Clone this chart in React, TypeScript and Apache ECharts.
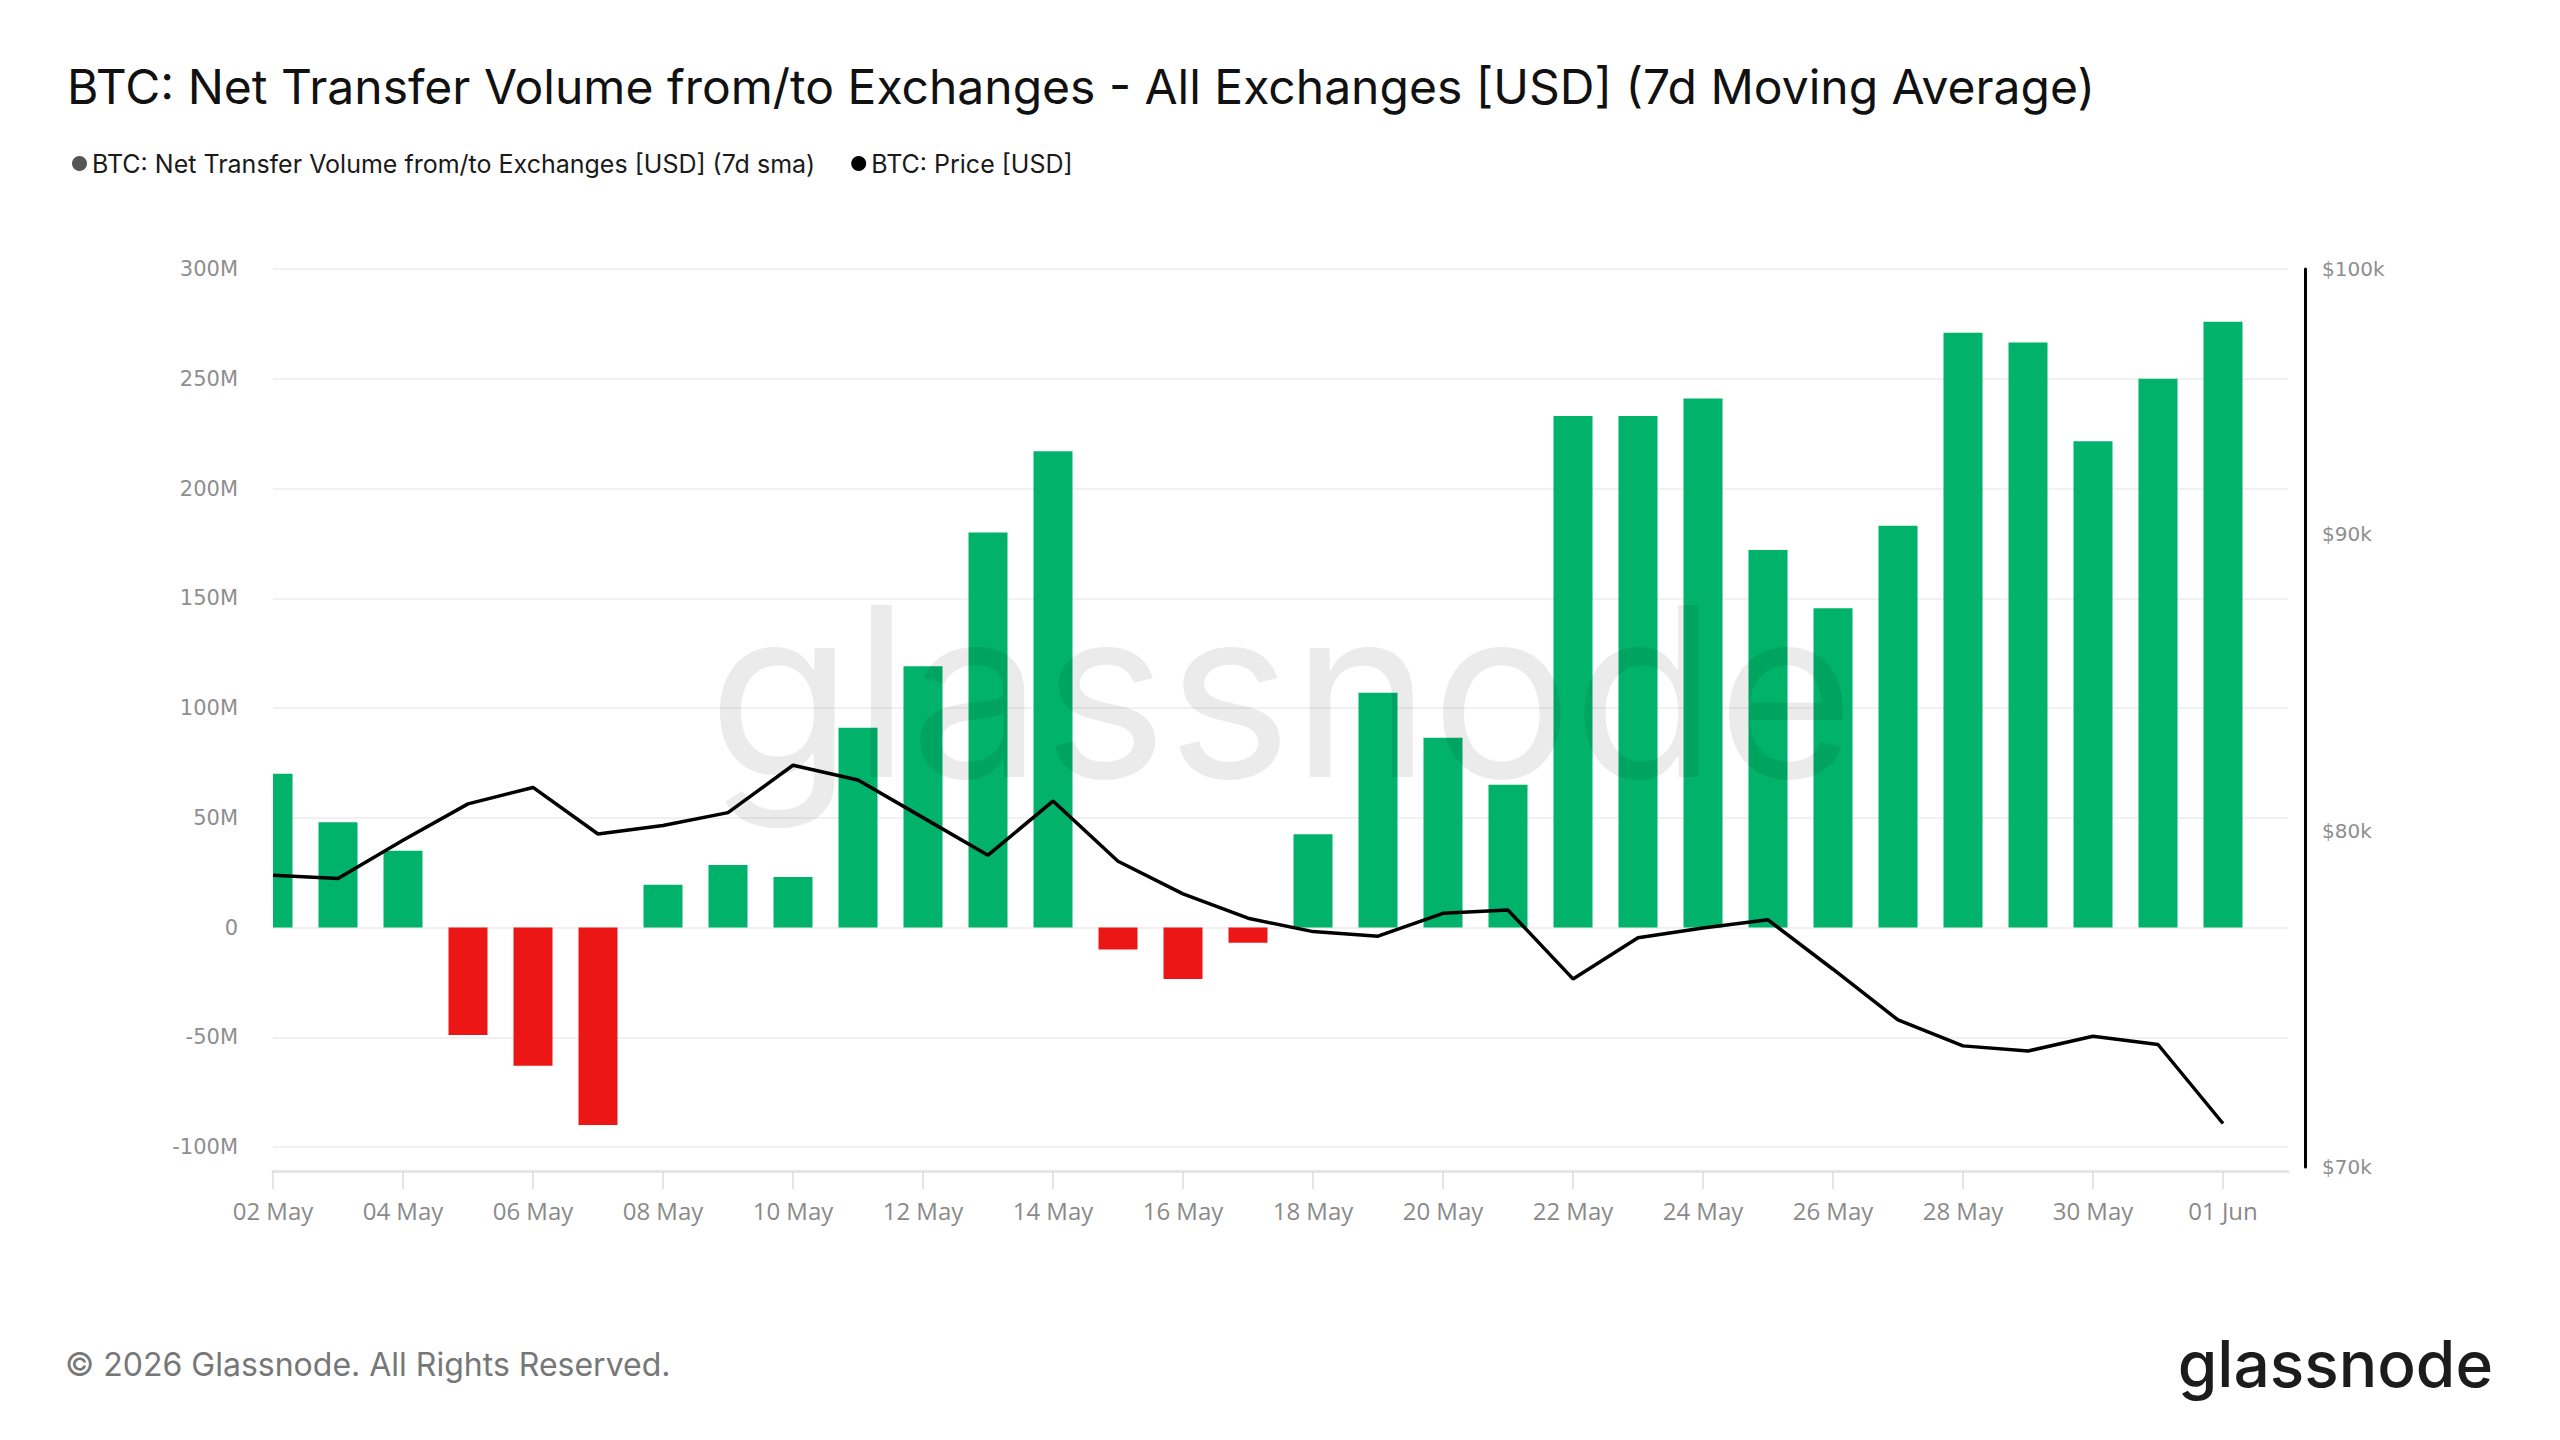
import React, { useEffect, useRef } from "react";
import * as echarts from "echarts";

const TITLE = "BTC: Net Transfer Volume from/to Exchanges - All Exchanges [USD] (7d Moving Average)";
const SERIES_FLOW = "BTC: Net Transfer Volume from/to Exchanges [USD] (7d sma)";
const SERIES_PRICE = "BTC: Price [USD]";

const dates: string[] = [
  "2026-05-02", "2026-05-03", "2026-05-04", "2026-05-05", "2026-05-06", "2026-05-07",
  "2026-05-08", "2026-05-09", "2026-05-10", "2026-05-11", "2026-05-12", "2026-05-13",
  "2026-05-14", "2026-05-15", "2026-05-16", "2026-05-17", "2026-05-18", "2026-05-19",
  "2026-05-20", "2026-05-21", "2026-05-22", "2026-05-23", "2026-05-24", "2026-05-25",
  "2026-05-26", "2026-05-27", "2026-05-28", "2026-05-29", "2026-05-30", "2026-05-31",
  "2026-06-01",
];

// Net transfer volume, millions of USD
const netFlowM: number[] = [
  70, 48, 35, -49, -63, -90, 19.5, 28.5, 23, 91, 119, 180, 217, -10, -23.5, -7,
  42.5, 107, 86.5, 65, 233, 233, 241, 172, 145.5, 183, 271, 266.5, 221.5, 250, 276,
];

// BTC price, USD
const priceUsd: number[] = [
  78600, 78500, 79700, 80860, 81390, 79900, 80170, 80580, 82110, 81630, 80420,
  79230, 80950, 79040, 78020, 77270, 76860, 76720, 77420, 77520, 75430, 76670,
  76970, 77220, 75720, 74210, 73450, 73300, 73730, 73490, 71220,
];

const xTickDates: string[] = [
  "2026-05-02", "2026-05-04", "2026-05-06", "2026-05-08", "2026-05-10", "2026-05-12",
  "2026-05-14", "2026-05-16", "2026-05-18", "2026-05-20", "2026-05-22", "2026-05-24",
  "2026-05-26", "2026-05-28", "2026-05-30", "2026-06-01",
];
const xMinDate = "2026-05-02";
const xMaxDate = "2026-06-02";

const rightTicks: number[] = [70000, 80000, 90000, 100000];

const GREEN = "#00b26a";
const RED = "#ec1616";
const ONE_DAY = 24 * 3600 * 1000;
const BAR_FRACTION = 0.6;

function toTs(s: string): number {
  const [y, m, d] = s.split("-").map(Number);
  return new Date(y, m - 1, d).getTime();
}

function fmtM(v: number): string {
  if (v === 0) return "0";
  return `${Math.round(v / 1e6)}M`;
}

export default function App() {
  const ref = useRef<HTMLDivElement>(null);

  useEffect(() => {
    if (!ref.current) return;
    const chart = echarts.init(ref.current, undefined, { renderer: "svg" });

    const flowData = dates.map((d, i) => [toTs(d), netFlowM[i] * 1e6]);
    const priceData = dates.map((d, i) => [toTs(d), priceUsd[i]]);

    const renderBar = (params: any, api: any) => {
      const x = api.value(0);
      const v = api.value(1);
      const p0 = api.coord([x, 0]);
      const p1 = api.coord([x, v]);
      const w = api.size([ONE_DAY, 0])[0] * BAR_FRACTION;
      const cs = params.coordSys;
      const shape = echarts.graphic.clipRectByRect(
        {
          x: p0[0] - w / 2,
          y: Math.min(p0[1], p1[1]),
          width: w,
          height: Math.abs(p1[1] - p0[1]),
        },
        { x: cs.x, y: cs.y, width: cs.width, height: cs.height }
      );
      if (!shape) return null;
      return {
        type: "rect",
        shape,
        style: { fill: v >= 0 ? GREEN : RED },
      };
    };

    const option: any = {
      animation: false,
      backgroundColor: "#ffffff",
      title: {
        text: TITLE,
        left: 62,
        top: 57,
        textStyle: {
          fontFamily: "Inter",
          fontSize: 48,
          fontWeight: 400,
          color: "#111111",
        },
      },
      legend: {
        left: 67,
        top: 146,
        icon: "circle",
        itemWidth: 15,
        itemHeight: 15,
        itemGap: 36,
        textStyle: { fontFamily: "Inter", fontSize: 25, color: "#1a1a1a" },
        data: [
          { name: SERIES_FLOW, itemStyle: { color: "#555555" } },
          { name: SERIES_PRICE, itemStyle: { color: "#000000" } },
        ],
      },
      grid: [
        { left: 273, right: 272, top: 269, bottom: 293, containLabel: false },
        { left: 273, right: 272, top: 269, bottom: 273, containLabel: false },
      ],
      xAxis: [
        {
          type: "time",
          gridIndex: 0,
          min: toTs(xMinDate),
          max: toTs(xMaxDate),
          show: false,
        },
        {
          type: "time",
          gridIndex: 1,
          min: toTs(xMinDate),
          max: toTs(xMaxDate),
          offset: 4,
          axisLine: { show: true, lineStyle: { color: "#e6e6e6", width: 3 } },
          axisTick: {
            show: true,
            length: 18,
            lineStyle: { color: "#dddddd", width: 1.5 },
            customValues: xTickDates.map(toTs),
          },
          axisLabel: {
            customValues: xTickDates.map(toTs),
            formatter: "{dd} {MMM}",
            fontFamily: "Open Sans",
            fontSize: 24,
            color: "#8a8a8a",
            margin: 27,
            hideOverlap: false,
          },
          splitLine: { show: false },
        },
      ],
      yAxis: [
        {
          type: "value",
          gridIndex: 0,
          min: -100e6,
          max: 300e6,
          interval: 50e6,
          axisLine: { show: false },
          axisTick: { show: false },
          axisLabel: {
            formatter: (v: number) => fmtM(v),
            fontFamily: "DejaVu Sans",
            fontSize: 21,
            color: "#8e8e8e",
            margin: 35,
          },
          splitLine: { show: true, lineStyle: { color: "#ececec", width: 1.5 } },
        },
        {
          type: "log",
          gridIndex: 1,
          position: "right",
          min: 70000,
          max: 100000,
          logBase: 10,
          offset: 17,
          axisLine: { show: true, lineStyle: { color: "#000000", width: 3 } },
          axisTick: { show: false },
          axisLabel: {
            customValues: rightTicks,
            formatter: (v: number) => `$${Math.round(v / 1000)}k`,
            fontFamily: "DejaVu Sans",
            fontSize: 20,
            color: "#8e8e8e",
            margin: 17,
          },
          splitLine: { show: false },
        },
      ],
      series: [
        {
          name: SERIES_FLOW,
          type: "custom",
          xAxisIndex: 0,
          yAxisIndex: 0,
          renderItem: renderBar,
          encode: { x: 0, y: 1 },
          data: flowData,
          itemStyle: { color: GREEN },
          z: 2,
        },
        {
          name: SERIES_PRICE,
          type: "line",
          xAxisIndex: 1,
          yAxisIndex: 1,
          data: priceData,
          showSymbol: false,
          symbol: "none",
          lineStyle: { color: "#000000", width: 3.5 },
          itemStyle: { color: "#000000" },
          z: 4,
        },
      ],
      graphic: [
        {
          type: "text",
          left: 708,
          top: 573,
          z: 3,
          silent: true,
          style: {
            text: "glassnode",
            fontFamily: "Inter",
            fontSize: 236,
            fontWeight: 400,
            fill: "rgba(0,0,0,0.08)",
          },
        },
        {
          type: "text",
          left: 65,
          top: 1348,
          style: {
            text: "© 2026 Glassnode. All Rights Reserved.",
            fontFamily: "Inter",
            fontSize: 32,
            fill: "#777777",
          },
        },
        {
          type: "text",
          right: 67,
          top: 1331,
          style: {
            text: "glassnode",
            fontFamily: "Inter",
            fontSize: 64,
            fontWeight: 500,
            fill: "#1c1c1c",
          },
        },
      ],
    };

    chart.setOption(option);
    return () => chart.dispose();
  }, []);

  return (
    <div
      ref={ref}
      style={{ position: "fixed", left: 0, top: 0, width: 2560, height: 1440, background: "#fff" }}
    />
  );
}
